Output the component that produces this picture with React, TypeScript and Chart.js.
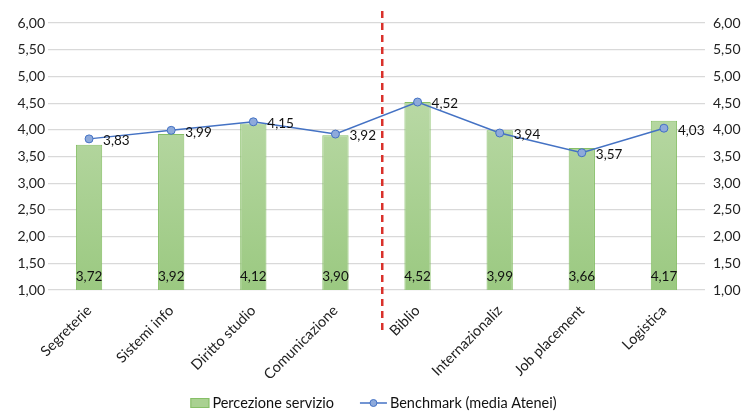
import React, { useEffect, useRef } from "react";
import { Chart, registerables } from "chart.js";

Chart.register(...registerables);

const categories = [
  "Segreterie",
  "Sistemi info",
  "Diritto studio",
  "Comunicazione",
  "Biblio",
  "Internazionaliz",
  "Job placement",
  "Logistica",
];
const percezione = [3.72, 3.92, 4.12, 3.9, 4.52, 3.99, 3.66, 4.17];
const benchmark = [3.83, 3.99, 4.15, 3.92, 4.52, 3.94, 3.57, 4.03];
const seriesNames = ["Percezione servizio", "Benchmark (media Atenei)"];
// divider between the two service groups, in category-index units
const dividerAt = 3.57;

const FONT = "Lato, 'Open Sans', sans-serif";
const fmt = (v: number) => v.toFixed(2).replace(".", ",");

const LINE = "#4472c4";
const MARKER = "#8eaadb";
const BAR_BORDER = "#86bf66";

const overlayPlugin = {
  id: "overlay",
  afterDatasetsDraw(chart: any) {
    const { ctx, chartArea, scales } = chart;
    const x = scales.x;
    ctx.save();
    // dashed separator
    const p0 = x.getPixelForValue(Math.floor(dividerAt));
    const p1 = x.getPixelForValue(Math.floor(dividerAt) + 1);
    const dx = p0 + (p1 - p0) * (dividerAt - Math.floor(dividerAt));
    ctx.strokeStyle = "#d9312b";
    ctx.lineWidth = 2.5;
    ctx.setLineDash([7, 5]);
    ctx.beginPath();
    ctx.moveTo(dx, 11);
    ctx.lineTo(dx, chartArea.bottom + 42);
    ctx.stroke();
    ctx.setLineDash([]);

    // value labels
    ctx.font = `13.5px ${FONT}`;
    ctx.fillStyle = "#111";
    const barMeta = chart.getDatasetMeta(0);
    ctx.textAlign = "center";
    ctx.textBaseline = "middle";
    barMeta.data.forEach((el: any, i: number) => {
      ctx.fillText(fmt(percezione[i]), el.x, chartArea.bottom - 13);
    });
    const lineMeta = chart.getDatasetMeta(1);
    ctx.textAlign = "left";
    lineMeta.data.forEach((el: any, i: number) => {
      ctx.fillText(fmt(benchmark[i]), el.x + 14, el.y + 2);
    });

    // legend
    const ly = chart.height - 9;
    ctx.font = `14.5px ${FONT}`;
    ctx.textBaseline = "middle";
    const t1 = ctx.measureText(seriesNames[0]).width;
    const t2 = ctx.measureText(seriesNames[1]).width;
    const total = 20 + 3 + t1 + 26 + 27 + 3 + t2;
    let lx = (chart.width - total) / 2;
    ctx.fillStyle = "#a9d191";
    ctx.strokeStyle = BAR_BORDER;
    ctx.lineWidth = 1;
    ctx.fillRect(lx, ly - 5, 19, 10);
    ctx.strokeRect(lx + 0.5, ly - 4.5, 18, 9);
    lx += 22;
    ctx.fillStyle = "#111";
    ctx.fillText(seriesNames[0], lx, ly);
    lx += t1 + 26;
    ctx.strokeStyle = LINE;
    ctx.lineWidth = 1.5;
    ctx.beginPath();
    ctx.moveTo(lx, ly);
    ctx.lineTo(lx + 27, ly);
    ctx.stroke();
    ctx.beginPath();
    ctx.arc(lx + 13.5, ly, 3.5, 0, Math.PI * 2);
    ctx.fillStyle = MARKER;
    ctx.fill();
    ctx.lineWidth = 1;
    ctx.stroke();
    lx += 30;
    ctx.fillStyle = "#111";
    ctx.fillText(seriesNames[1], lx, ly);
    ctx.restore();
  },
};

export default function App() {
  const ref = useRef<HTMLCanvasElement>(null);
  useEffect(() => {
    document.body.style.margin = "0";
    const canvas = ref.current!;
    const tick = {
      color: "#222",
      font: { family: FONT, size: 14 },
      callback: (v: any) => fmt(Number(v)),
      stepSize: 0.5,
    };
    const chart = new Chart(canvas, {
      type: "bar",
      data: {
        labels: categories,
        datasets: [
          {
            type: "bar",
            label: seriesNames[0],
            data: percezione,
            backgroundColor: (c: any) => {
              const area = c.chart.chartArea;
              if (!area) return "#a9d191";
              const g = c.chart.ctx.createLinearGradient(0, area.top + 80, 0, area.bottom);
              g.addColorStop(0, "#b8d8a4");
              g.addColorStop(1, "#9bc981");
              return g;
            },
            borderColor: BAR_BORDER,
            borderWidth: 1,
            barPercentage: 0.32,
            categoryPercentage: 1,
            order: 2,
          },
          {
            type: "line",
            label: seriesNames[1],
            data: benchmark,
            borderColor: LINE,
            borderWidth: 1.5,
            pointRadius: 4,
            pointBackgroundColor: MARKER,
            pointBorderColor: LINE,
            pointBorderWidth: 1,
            tension: 0,
            order: 1,
          },
        ] as any,
      },
      options: {
        animation: false,
        responsive: false,
        layout: { padding: { top: 23, bottom: 30, left: 0, right: 0 } },
        plugins: { legend: { display: false }, tooltip: { enabled: false } },
        scales: {
          x: {
            grid: { display: false },
            border: { display: false },
            ticks: {
              color: "#222",
              font: { family: FONT, size: 14.5 },
              maxRotation: 45,
              minRotation: 45,
              autoSkip: false,
              padding: 4,
            },
            afterFit: (s: any) => {
              s.height = 92;
            },
          },
          y: {
            position: "left",
            min: 1,
            max: 6,
            ticks: tick,
            grid: { color: "#d9d9d9", drawTicks: false, lineWidth: 1.2 },
            border: { display: false },
            afterFit: (s: any) => {
              s.width = 48;
            },
          },
          y2: {
            position: "right",
            min: 1,
            max: 6,
            ticks: { ...tick, padding: 8 },
            grid: { display: false, drawTicks: false },
            border: { display: false },
            afterFit: (s: any) => {
              s.width = 43;
            },
          },
        },
      } as any,
      plugins: [overlayPlugin],
    });
    return () => chart.destroy();
  }, []);
  return (
    <div style={{ position: "absolute", left: 0, top: 0, width: 748, height: 412, background: "#fff" }}>
      <canvas ref={ref} width={748} height={412} />
    </div>
  );
}
